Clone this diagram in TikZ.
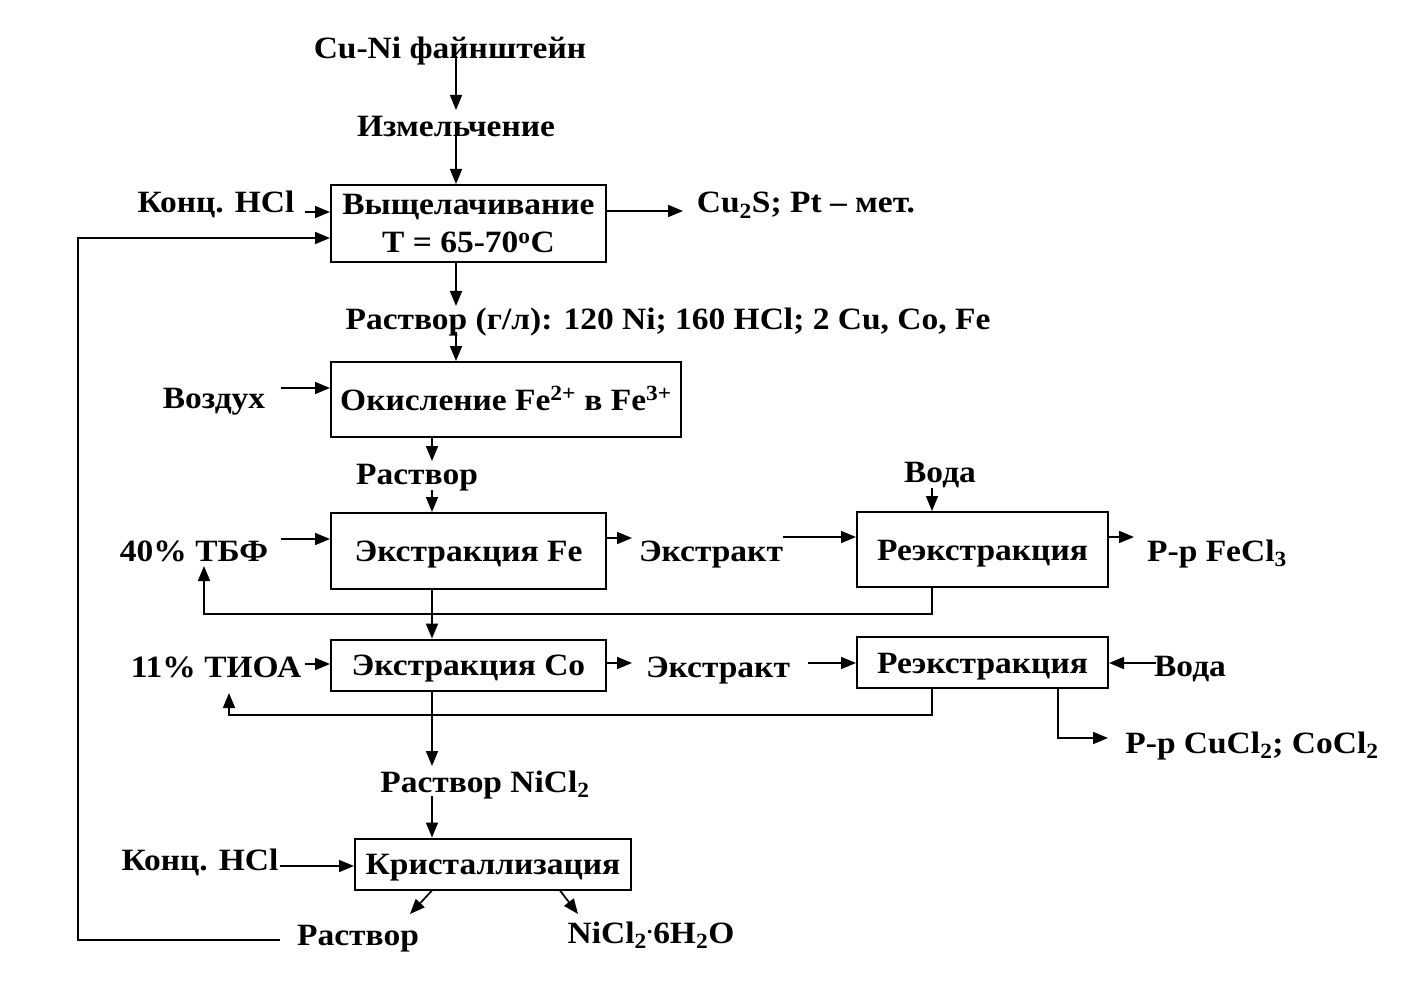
\documentclass[tikz,border=0pt]{standalone}
\usepackage{fontspec}
\setmainfont[FakeStretch=1.08]{Liberation Serif}
\usetikzlibrary{arrows.meta}
\begin{document}
\begin{tikzpicture}[x=1pt,y=-1pt,
  every node/.style={font=\fontsize{31}{38}\selectfont\bfseries, inner sep=0pt},
  boxbase/.style={draw, line width=2pt, align=center},
  box/.style={boxbase, text height=21pt, text depth=0pt},
  lbl/.style={anchor=base},
  ln/.style={line width=1.7pt},
  arr/.style={ln, -{Triangle[length=15pt,width=12pt]}}
]
\useasboundingbox[fill=white] (0,0) rectangle (1405,992);

% nodes
\node[lbl] (t1) at (450,59) {Cu-Ni файнштейн};
\node[lbl] (t2) at (456,137) {Измельчение};
\node[boxbase, minimum width=275pt, minimum height=77pt] (b1) at (468.5,223.5) {Выщелачивание\\T = 65-70\textsuperscript{o}C};
\node[lbl] (hcl1) at (216,213) {Конц. HCl};
\node[lbl] (out1) at (806,213) {Cu\textsubscript{2}S; Pt – мет.};
\node[lbl] (sol1) at (668,329) {Раствор (г/л): 120 Ni; 160 HCl; 2 Cu, Co, Fe};
\node[box, minimum width=350pt, minimum height=75pt] (b2) at (506,399.5) {Окисление Fe\textsuperscript{2+} в Fe\textsuperscript{3+}};
\node[lbl] (air) at (214,408) {Воздух};
\node[lbl] (sol2) at (417,484) {Раствор};
\node[box, minimum width=275pt, minimum height=76pt] (b3) at (468.5,551) {Экстракция Fe};
\node[lbl] (tbf) at (194,561) {40\% ТБФ};
\node[lbl] (ext1) at (711,561) {Экстракт};
\node[box, minimum width=251pt, minimum height=75pt] (b4) at (982.5,549.5) {Реэкстракция};
\node[lbl] (w1) at (940,482) {Вода};
\node[lbl] (fecl) at (1217,561) {Р-р FeCl\textsubscript{3}};
\node[box, minimum width=275pt, minimum height=51pt] (b5) at (468.5,665) {Экстракция Co};
\node[lbl] (tioa) at (216,677) {11\% ТИОА};
\node[lbl] (ext2) at (718,677) {Экстракт};
\node[box, minimum width=251pt, minimum height=51pt] (b6) at (982.5,662.5) {Реэкстракция};
\node[lbl] (w2) at (1190,676) {Вода};
\node[lbl] (cucl) at (1252,753) {Р-р CuCl\textsubscript{2}; CoCl\textsubscript{2}};
\node[lbl] (nicl) at (485,792) {Раствор NiCl\textsubscript{2}};
\node[box, minimum width=276pt, minimum height=51pt] (b7) at (493,864) {Кристаллизация};
\node[lbl] (hcl2) at (200,870) {Конц. HCl};
\node[lbl] (sol3) at (358,945) {Раствор};
\node[lbl] (hyd) at (651,943) {NiCl\textsubscript{2}\textsuperscript{.}6H\textsubscript{2}O};

% connectors
\draw[arr] (456,56) -- (456,110);
\draw[arr] (456,132) -- (b1.north -| 456,0);
\draw[arr] (305,212) -- (b1.west |- 0,212);
\draw[arr] (280,940) -- (78,940) -- (78,238) -- (b1.west |- 0,238);
\draw[arr] (b1.east |- 0,211) -- (683,211);
\draw[arr] (b1.south -| 456,0) -- (456,306);
\draw[arr] (456,332) -- (b2.north -| 456,0);
\draw[arr] (281,388) -- (b2.west |- 0,388);
\draw[arr] (b2.south -| 432,0) -- (432,461);
\draw[arr] (432,490) -- (b3.north -| 432,0);
\draw[arr] (281,539) -- (b3.west |- 0,539);
\draw[arr] (b3.east |- 0,538) -- (632,538);
\draw[arr] (783,537) -- (b4.west |- 0,537);
\draw[arr] (932,488) -- (b4.north -| 932,0);
\draw[arr] (b4.east |- 0,537) -- (1134,537);
\draw[arr] (b4.south -| 932,0) -- (932,614) -- (204,614) -- (204,566);
\draw[arr] (b3.south -| 432,0) -- (b5.north -| 432,0);
\draw[arr] (305,664) -- (b5.west |- 0,664);
\draw[arr] (b5.east |- 0,663) -- (632,663);
\draw[arr] (808,663) -- (b6.west |- 0,663);
\draw[arr] (1156,663) -- (b6.east |- 0,663);
\draw[arr] (b6.south -| 932,0) -- (932,715) -- (229,715) -- (229,693);
\draw[arr] (b6.south -| 1058,0) -- (1058,738) -- (1108,738);
\draw[arr] (b5.south -| 432,0) -- (432,766);
\draw[arr] (432,796) -- (b7.north -| 432,0);
\draw[arr] (280,866) -- (b7.west |- 0,866);
\draw[arr] (b7.south -| 432,0) -- (410,914);
\draw[arr] (b7.south -| 560,0) -- (578,914);
\end{tikzpicture}
\end{document}
